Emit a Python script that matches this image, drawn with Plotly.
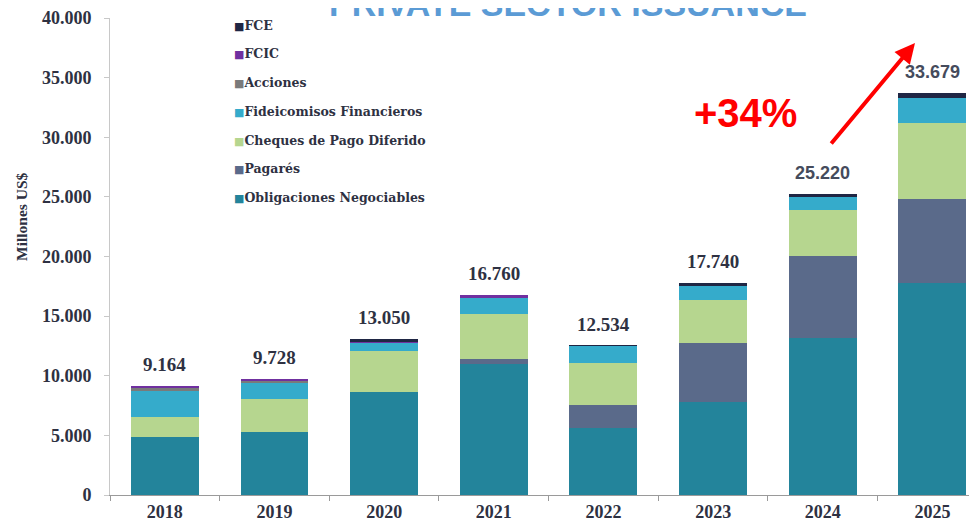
import plotly.graph_objects as go

years = ["2018", "2019", "2020", "2021", "2022", "2023", "2024", "2025"]
obligaciones = [4850, 5270, 8600, 11000, 5600, 7760, 13170, 17790]
pagares = [0, 0, 0, 400, 1960, 4990, 6860, 7000]
cheques = [1650, 2770, 3440, 3800, 3540, 3640, 3860, 6410]
fideicomisos = [2250, 1400, 760, 1400, 1400, 1170, 1180, 2050]
acciones = [300, 88, 0, 0, 0, 0, 0, 0]
fcic = [114, 200, 50, 160, 0, 0, 0, 0]
fce = [0, 0, 200, 0, 34, 180, 150, 429]
totals = [9164, 9728, 13050, 16760, 12534, 17740, 25220, 33679]

series = [
    ("Obligaciones Negociables", obligaciones, "#23849b"),
    ("Pagarés", pagares, "#5a6a8a"),
    ("Cheques de Pago Diferido", cheques, "#b6d68f"),
    ("Fideicomisos Financieros", fideicomisos, "#35abcb"),
    ("Acciones", acciones, "#7a7a7a"),
    ("FCIC", fcic, "#7030a0"),
    ("FCE", fce, "#1f2644"),
]

SERIF = "Liberation Serif"
TXT = "#2e3142"
OFF = 8  # page body margin
W, H = 977 - OFF, 528 - OFF
L, T, B = 110 - OFF, 18 - OFF, 528 - 495
PW, PH = W - L, H - T - B


def px(x):
    return (x - OFF - L) / PW


def py(y):
    return (H - B - (y - OFF)) / PH


fig = go.Figure()
for name, vals, col in series:
    fig.add_trace(go.Bar(
        x=years, y=vals, name=name, marker=dict(color=col, line=dict(width=0)),
        showlegend=False,
    ))

for i, t in enumerate(totals):
    late = i >= len(totals) - 2
    fig.add_annotation(
        x=i, y=t, text=f"<b>{t:,}</b>".replace(",", "."), showarrow=False,
        yanchor="bottom", yshift=9, xref="x", yref="y",
        font=dict(family="Liberation Sans" if late else SERIF,
                  size=18 if late else 19,
                  color="#454b5c" if late else TXT),
    )

# manual legend (top item = last series)
for k, (name, vals, col) in enumerate(reversed(series)):
    fig.add_annotation(
        x=px(232), y=py(25 + 28.8 * k), xref="paper", yref="paper",
        xanchor="left", yanchor="middle", showarrow=False,
        text=f"<span style='color:{col};font-size:11px'>■</span><b>{name}</b>",
        font=dict(family="DejaVu Serif", size=12.5, color=TXT),
    )

# axis title
fig.add_annotation(
    x=px(21), y=py(217), xref="paper", yref="paper", textangle=-90,
    text="<b>Millones US$</b>", showarrow=False, xanchor="center", yanchor="middle",
    font=dict(family=SERIF, size=15.5, color=TXT),
)

# title (cut off at top in the source; only its lower part shows)
fig.add_annotation(
    x=px(568), y=py(25), xref="paper", yref="paper",
    text="<b>PRIVATE SECTOR ISSUANCE</b>", showarrow=False,
    xanchor="center", yanchor="bottom",
    font=dict(family="Liberation Sans", size=34, color="#5b9bd5"),
)

fig.add_annotation(
    x=px(745), y=py(113), xref="paper", yref="paper",
    text="<b>+34%</b>", showarrow=False, xanchor="center", yanchor="middle",
    font=dict(family="Liberation Sans", size=40, color="#ff0000"),
)

fig.add_annotation(
    x=px(915), y=py(43), xref="paper", yref="paper",
    ax=830 - 915, ay=145 - 43, axref="pixel", ayref="pixel",
    text="", showarrow=True, arrowhead=2, arrowsize=1.0, arrowwidth=4,
    arrowcolor="#ff0000",
)

fig.update_layout(
    width=W, height=H,
    margin=dict(l=L, r=0, t=T, b=B, autoexpand=False),
    paper_bgcolor="white", plot_bgcolor="white",
    barmode="stack", bargap=0.38,
    separators=",.",
    showlegend=False,
    xaxis=dict(
        type="category",
        range=[-0.5, 7.406], showgrid=False, showline=True, linecolor="#9a9a9a",
        linewidth=1, ticks="outside", tickson="boundaries", ticklen=5,
        tickcolor="#9a9a9a", automargin=False,
        tickfont=dict(family=SERIF, size=18, color=TXT, weight="bold"),
    ),
    yaxis=dict(
        range=[0, 40000], dtick=5000, tickformat=",", showgrid=False,
        showline=True, linecolor="#c8c8c8", linewidth=1, ticks="outside",
        ticklen=5, tickcolor="#c8c8c8", zeroline=False, automargin=False,
        ticksuffix="\u00a0\u00a0",
        tickfont=dict(family=SERIF, size=18, color=TXT, weight="bold"),
    ),
)

fig.write_html("out.html")
